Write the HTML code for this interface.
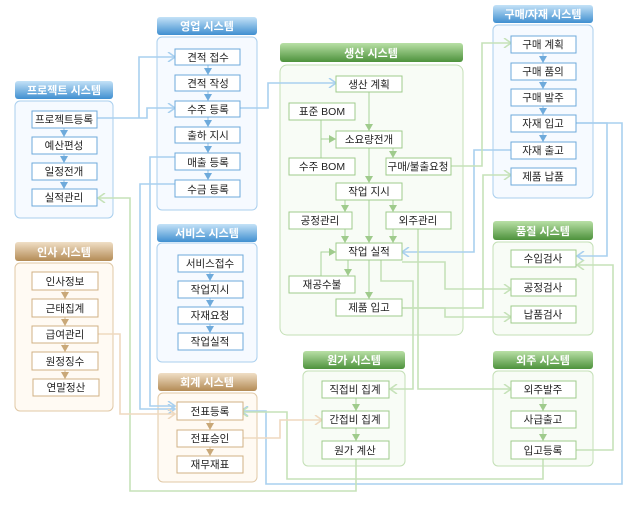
<!DOCTYPE html>
<html><head><meta charset="utf-8"><style>
html,body{margin:0;padding:0;background:#fff;}
svg{display:block;}
text{font-family:"Liberation Sans","Noto Sans CJK KR","NanumGothic",sans-serif;font-size:10.5px;fill:#222;text-anchor:middle;}
.h{fill:#fff;font-weight:bold;font-size:11px;}
.nb{fill:#fff;stroke:#6eaadb;stroke-width:1;}
.ng{fill:#fff;stroke:#9fcb8c;stroke-width:1;}
.nr{fill:#fff;stroke:#d1b184;stroke-width:1;}
.lb{fill:none;stroke:#a9d0ef;stroke-width:1.6;}
.lg{fill:none;stroke:#c6e2b9;stroke-width:1.6;}
.lr{fill:none;stroke:#efd9bf;stroke-width:1.6;}
.ib{fill:none;stroke:#8fc0e6;stroke-width:1;}
.ig{fill:none;stroke:#a8d39a;stroke-width:1;}
.ir{fill:none;stroke:#d6bb93;stroke-width:1;}
</style></head><body>
<svg width="641" height="505" viewBox="0 0 641 505" xmlns="http://www.w3.org/2000/svg">
<defs>
<linearGradient id="gb" x1="0" y1="0" x2="0" y2="1"><stop offset="0" stop-color="#c4e2f7"/><stop offset="1" stop-color="#3f8fd0"/></linearGradient>
<linearGradient id="gg" x1="0" y1="0" x2="0" y2="1"><stop offset="0" stop-color="#b9e0a6"/><stop offset="1" stop-color="#4d923c"/></linearGradient>
<linearGradient id="gr" x1="0" y1="0" x2="0" y2="1"><stop offset="0" stop-color="#f0dfc6"/><stop offset="1" stop-color="#b38b55"/></linearGradient>
<marker id="cb" markerWidth="10" markerHeight="10" refX="8" refY="5" orient="auto" markerUnits="userSpaceOnUse"><path d="M1,0 L8,5 L1,10" fill="none" stroke="#a9d0ef" stroke-width="1.6"/></marker>
<marker id="cg" markerWidth="10" markerHeight="10" refX="8" refY="5" orient="auto" markerUnits="userSpaceOnUse"><path d="M1,0 L8,5 L1,10" fill="none" stroke="#c6e2b9" stroke-width="1.6"/></marker>
<marker id="cr" markerWidth="10" markerHeight="10" refX="8" refY="5" orient="auto" markerUnits="userSpaceOnUse"><path d="M1,0 L8,5 L1,10" fill="none" stroke="#efd9bf" stroke-width="1.6"/></marker>
<marker id="tb" markerWidth="8" markerHeight="8" refX="7" refY="4" orient="auto" markerUnits="userSpaceOnUse"><path d="M0,0 L7,4 L0,8z" fill="#6eaadb"/></marker>
<marker id="tg" markerWidth="8" markerHeight="8" refX="7" refY="4" orient="auto" markerUnits="userSpaceOnUse"><path d="M0,0 L7,4 L0,8z" fill="#9fcb8c"/></marker>
<marker id="tr" markerWidth="8" markerHeight="8" refX="7" refY="4" orient="auto" markerUnits="userSpaceOnUse"><path d="M0,0 L7,4 L0,8z" fill="#c9a878"/></marker>
</defs>

<!-- panels -->
<rect x="15" y="101" width="98" height="117" rx="5" fill="#f6faff" stroke="#a9cfee"/>
<rect x="157" y="37" width="100" height="173" rx="5" fill="#f6faff" stroke="#a9cfee"/>
<rect x="157" y="243" width="100" height="119" rx="5" fill="#f6faff" stroke="#a9cfee"/>
<rect x="15" y="263" width="98" height="148" rx="5" fill="#fffaf3" stroke="#e0c8a6"/>
<rect x="158" y="393" width="99" height="89" rx="5" fill="#fffaf3" stroke="#e0c8a6"/>
<rect x="280" y="65" width="183" height="270" rx="7" fill="#f8fcf6" stroke="#c3dfb5"/>
<rect x="493" y="25" width="100" height="173" rx="5" fill="#f6faff" stroke="#a9cfee"/>
<rect x="493" y="242" width="100" height="93" rx="5" fill="#f8fcf6" stroke="#c3dfb5"/>
<rect x="303" y="371" width="102" height="95" rx="5" fill="#f8fcf6" stroke="#c3dfb5"/>
<rect x="493" y="371" width="100" height="95" rx="5" fill="#f8fcf6" stroke="#c3dfb5"/>

<!-- headers -->
<rect x="15" y="81" width="98" height="18" rx="3" fill="url(#gb)"/><text class="h" x="64" y="94">프로젝트 시스템</text>
<rect x="157" y="17" width="100" height="18" rx="3" fill="url(#gb)"/><text class="h" x="207" y="30">영업 시스템</text>
<rect x="157" y="224" width="100" height="18" rx="3" fill="url(#gb)"/><text class="h" x="207" y="237">서비스 시스템</text>
<rect x="15" y="242" width="98" height="19" rx="3" fill="url(#gr)"/><text class="h" x="64" y="256">인사 시스템</text>
<rect x="158" y="373" width="99" height="18" rx="3" fill="url(#gr)"/><text class="h" x="207" y="386">회계 시스템</text>
<rect x="280" y="43" width="183" height="19" rx="3" fill="url(#gg)"/><text class="h" x="371" y="57">생산 시스템</text>
<rect x="493" y="5" width="100" height="18" rx="3" fill="url(#gb)"/><text class="h" x="543" y="18">구매/자재 시스템</text>
<rect x="493" y="221" width="100" height="19" rx="3" fill="url(#gg)"/><text class="h" x="543" y="235">품질 시스템</text>
<rect x="303" y="351" width="102" height="18" rx="3" fill="url(#gg)"/><text class="h" x="354" y="364">원가 시스템</text>
<rect x="493" y="351" width="100" height="18" rx="3" fill="url(#gg)"/><text class="h" x="543" y="364">외주 시스템</text>

<!-- cross connectors -->
<path class="lb" d="M97,118 H147 V108 H175" marker-end="url(#cb)"/>
<path class="lb" d="M139,118 V57 H175" marker-end="url(#cb)"/>
<path class="lb" d="M240,108 H268 V83 H336" marker-end="url(#cb)"/>
<path class="lb" d="M175,157 H150 V406 H175" marker-end="url(#cb)"/>
<path class="lb" d="M175,184 H140 V409 H175" marker-end="url(#cb)"/>
<path class="lb" d="M511,150 H474 V252 H402" marker-end="url(#cb)"/>
<path class="lb" d="M576,123 H607 V256 H577" marker-end="url(#cb)"/>
<path class="lb" d="M576,123 H622 V484 H266 V411 H241" marker-end="url(#cb)"/>
<path class="lg" d="M451,166 H482 V43 H511" marker-end="url(#cg)"/>
<path class="lg" d="M402,308 H483 V175 H511" marker-end="url(#cg)"/>
<path class="lg" d="M402,262 H445 V289 H511" marker-end="url(#cg)"/>
<path class="lg" d="M402,308 H445 V317 H511" marker-end="url(#cg)"/>
<path class="lg" d="M418,229 V389 H511" marker-end="url(#cg)"/>
<path class="lg" d="M381,260 V281 H413 V389 H390" marker-end="url(#cg)"/>
<path class="lg" d="M576,450 H613 V265 H577" marker-end="url(#cg)"/>
<path class="lg" d="M543,459 V479 H287 V412 H241" marker-end="url(#cg)"/>
<path class="lg" d="M356,459 V491 H130 V198 H98" marker-end="url(#cg)"/>
<path class="lr" d="M98,334 H120 V414 H175" marker-end="url(#cr)"/>
<path class="lr" d="M243,438 H280 V420 H322" marker-end="url(#cr)"/>

<!-- production internal -->
<path class="ig" d="M369,92 V131" marker-end="url(#tg)"/>
<path class="ig" d="M321,120 V158 M321,139 H336" marker-end="url(#tg)"/>
<path class="ig" d="M369,148 V183" marker-end="url(#tg)"/>
<path class="ig" d="M393,148 V158" marker-end="url(#tg)"/>
<path class="ig" d="M345,200 V212" marker-end="url(#tg)"/>
<path class="ig" d="M393,200 V212" marker-end="url(#tg)"/>
<path class="ig" d="M369,200 V243" marker-end="url(#tg)"/>
<path class="ig" d="M345,229 V243" marker-end="url(#tg)"/>
<path class="ig" d="M393,229 V243" marker-end="url(#tg)"/>
<path class="ig" d="M348,260 V276" marker-end="url(#tg)"/>
<path class="ig" d="M321,276 V252 H336" marker-end="url(#tg)"/>
<path class="ig" d="M369,260 V299" marker-end="url(#tg)"/>
<path class="ig" d="M356,398 V411" marker-end="url(#tg)"/>
<path class="ig" d="M356,428 V441" marker-end="url(#tg)"/>
<path class="ig" d="M543,398 V411" marker-end="url(#tg)"/>
<path class="ig" d="M543,428 V441" marker-end="url(#tg)"/>
<!-- blue internal -->
<path class="ib" d="M64,128 V137 M64,154 V163 M64,180 V189"/>
<path class="ib" d="M64,128 V137" marker-end="url(#tb)"/><path class="ib" d="M64,154 V163" marker-end="url(#tb)"/><path class="ib" d="M64,180 V189" marker-end="url(#tb)"/>
<path class="ib" d="M208,65 V75" marker-end="url(#tb)"/><path class="ib" d="M208,91 V101" marker-end="url(#tb)"/><path class="ib" d="M208,117 V127" marker-end="url(#tb)"/><path class="ib" d="M208,143 V153" marker-end="url(#tb)"/><path class="ib" d="M208,170 V180" marker-end="url(#tb)"/>
<path class="ib" d="M210,272 V281" marker-end="url(#tb)"/><path class="ib" d="M210,298 V307" marker-end="url(#tb)"/><path class="ib" d="M210,324 V333" marker-end="url(#tb)"/>
<path class="ib" d="M543,53 V63" marker-end="url(#tb)"/><path class="ib" d="M543,80 V89" marker-end="url(#tb)"/><path class="ib" d="M543,106 V115" marker-end="url(#tb)"/><path class="ib" d="M543,132 V142" marker-end="url(#tb)"/>
<!-- brown internal -->
<path class="ir" d="M65,290 V299" marker-end="url(#tr)"/><path class="ir" d="M65,317 V326" marker-end="url(#tr)"/><path class="ir" d="M65,343 V352" marker-end="url(#tr)"/><path class="ir" d="M65,370 V379" marker-end="url(#tr)"/>
<path class="ir" d="M210,420 V430" marker-end="url(#tr)"/><path class="ir" d="M210,447 V456" marker-end="url(#tr)"/>

<!-- nodes project -->
<rect class="nb" x="32" y="111" width="65" height="17"/><text x="64" y="123">프로젝트등록</text>
<rect class="nb" x="32" y="137" width="65" height="17"/><text x="64" y="149">예산편성</text>
<rect class="nb" x="32" y="163" width="65" height="17"/><text x="64" y="175">일정전개</text>
<rect class="nb" x="32" y="189" width="65" height="17"/><text x="64" y="201">실적관리</text>
<!-- sales -->
<rect class="nb" x="175" y="49" width="65" height="16"/><text x="208" y="61">견적 접수</text>
<rect class="nb" x="175" y="75" width="65" height="16"/><text x="208" y="87">견적 작성</text>
<rect class="nb" x="175" y="101" width="65" height="16"/><text x="208" y="113">수주 등록</text>
<rect class="nb" x="175" y="127" width="65" height="16"/><text x="208" y="139">출하 지시</text>
<rect class="nb" x="175" y="153" width="65" height="17"/><text x="208" y="166">매출 등록</text>
<rect class="nb" x="175" y="180" width="65" height="17"/><text x="208" y="193">수금 등록</text>
<!-- service -->
<rect class="nb" x="178" y="255" width="65" height="17"/><text x="210" y="267">서비스접수</text>
<rect class="nb" x="178" y="281" width="65" height="17"/><text x="210" y="293">작업지시</text>
<rect class="nb" x="178" y="307" width="65" height="17"/><text x="210" y="319">자재요청</text>
<rect class="nb" x="178" y="333" width="65" height="17"/><text x="210" y="345">작업실적</text>
<!-- HR -->
<rect class="nr" x="32" y="272" width="66" height="18"/><text x="65" y="285">인사정보</text>
<rect class="nr" x="32" y="299" width="66" height="18"/><text x="65" y="312">근태집계</text>
<rect class="nr" x="32" y="326" width="66" height="17"/><text x="65" y="338">급여관리</text>
<rect class="nr" x="32" y="352" width="66" height="18"/><text x="65" y="365">원정징수</text>
<rect class="nr" x="33" y="379" width="66" height="17"/><text x="66" y="391">연말정산</text>
<!-- accounting -->
<rect class="nr" x="177" y="402" width="66" height="18"/><text x="210" y="415">전표등록</text>
<rect class="nr" x="177" y="430" width="66" height="17"/><text x="210" y="442">전표승인</text>
<rect class="nr" x="177" y="456" width="66" height="17"/><text x="210" y="468">재무재표</text>
<!-- production -->
<rect class="ng" x="336" y="76" width="66" height="16"/><text x="369" y="88">생산 계획</text>
<rect class="ng" x="289" y="103" width="66" height="17"/><text x="322" y="115">표준 BOM</text>
<rect class="ng" x="336" y="131" width="66" height="17"/><text x="369" y="143">소요량전개</text>
<rect class="ng" x="289" y="158" width="66" height="17"/><text x="322" y="170">수주 BOM</text>
<rect class="ng" x="386" y="158" width="65" height="17"/><text x="418" y="170">구매/불출요청</text>
<rect class="ng" x="336" y="183" width="66" height="17"/><text x="369" y="195">작업 지시</text>
<rect class="ng" x="289" y="212" width="63" height="17"/><text x="320" y="224">공정관리</text>
<rect class="ng" x="386" y="212" width="65" height="17"/><text x="418" y="224">외주관리</text>
<rect class="ng" x="336" y="243" width="66" height="17"/><text x="369" y="255">작업 실적</text>
<rect class="ng" x="289" y="276" width="66" height="17"/><text x="322" y="288">재공수불</text>
<rect class="ng" x="336" y="299" width="66" height="17"/><text x="369" y="311">제품 입고</text>
<!-- purchasing -->
<rect class="nb" x="511" y="36" width="65" height="17"/><text x="543" y="48">구매 계획</text>
<rect class="nb" x="511" y="63" width="65" height="17"/><text x="543" y="75">구매 품의</text>
<rect class="nb" x="511" y="89" width="65" height="17"/><text x="543" y="101">구매 발주</text>
<rect class="nb" x="511" y="115" width="65" height="17"/><text x="543" y="127">자재 입고</text>
<rect class="nb" x="511" y="142" width="65" height="17"/><text x="543" y="154">자재 출고</text>
<rect class="nb" x="511" y="168" width="65" height="17"/><text x="543" y="180">제품 납품</text>
<!-- quality -->
<rect class="ng" x="511" y="250" width="65" height="17"/><text x="543" y="262">수입검사</text>
<rect class="ng" x="511" y="279" width="65" height="17"/><text x="543" y="291">공정검사</text>
<rect class="ng" x="511" y="306" width="65" height="17"/><text x="543" y="318">납품검사</text>
<!-- cost -->
<rect class="ng" x="322" y="381" width="67" height="17"/><text x="355" y="393">직접비 집계</text>
<rect class="ng" x="322" y="411" width="67" height="17"/><text x="355" y="423">간접비 집계</text>
<rect class="ng" x="322" y="441" width="67" height="18"/><text x="355" y="454">원가 계산</text>
<!-- outsourcing -->
<rect class="ng" x="511" y="381" width="65" height="17"/><text x="543" y="393">외주발주</text>
<rect class="ng" x="511" y="411" width="65" height="17"/><text x="543" y="423">사급출고</text>
<rect class="ng" x="511" y="441" width="65" height="18"/><text x="543" y="454">입고등록</text>
</svg>
</body></html>
